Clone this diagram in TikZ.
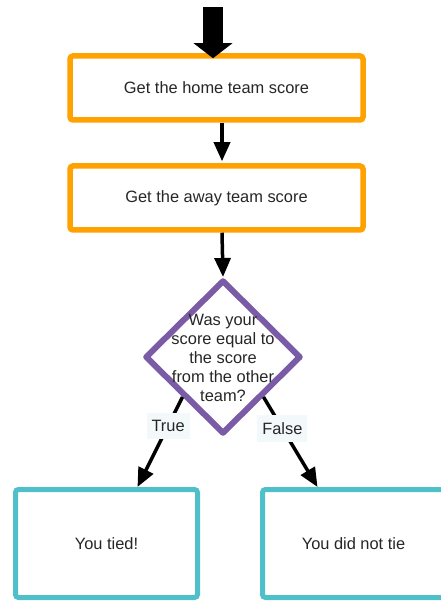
\documentclass[tikz,border=0pt]{standalone}
\usepackage{fontspec}
\setmainfont{Liberation Sans}
\usetikzlibrary{shapes.geometric,arrows.meta,calc}

\definecolor{boxorange}{HTML}{FFA200}
\definecolor{decpurple}{HTML}{7A5CA6}
\definecolor{endteal}{HTML}{4FC0CA}
\definecolor{labelbg}{HTML}{F3F8FA}

\tikzset{
  x=1pt, y=-1pt,
  txt/.style={font=\fontsize{16.4}{19}\selectfont, text=black!85},
  stepbox/.style={draw=boxorange, line width=5.5pt, rounded corners=3pt, fill=white,
    minimum width=293pt, minimum height=64pt, inner sep=0pt, txt},
  endbox/.style={draw=endteal, line width=5pt, rounded corners=3pt, fill=white,
    minimum width=182pt, minimum height=108pt, inner sep=0pt, txt},
  decision/.style={diamond, draw=decpurple, line width=6pt, line join=round, fill=white,
    minimum width=156pt, minimum height=154pt, inner sep=0pt},
  flow/.style={draw=black, line width=3.5pt, -{Triangle[length=19pt,width=16pt]}},
  branch/.style={txt, fill=labelbg, inner xsep=5pt, inner ysep=7pt}
}

\begin{document}
\begin{tikzpicture}
  \useasboundingbox (0,0) rectangle (440,601);

  % process steps
  \node[stepbox] (home) at (216.5,88) {Get the home team score};
  \node[stepbox] (away) at (216.5,198) {Get the away team score};

  % decision
  \node[decision] (dec) at (223,357) {};
  \node[txt, align=center, inner sep=0pt] (q) at (223,358)
    {Was your\\score equal to\\the score\\from the other\\team?};

  % outcomes
  \node[endbox] (tied) at (106.5,543.5) {You tied!};
  \node[endbox] (nottie) at (353.5,543.5) {You did not tie};

  % entry arrow
  \coordinate (entry) at (213,7);
  \draw[line width=20pt, -{Triangle[length=15pt,width=38pt]}]
    (entry) -- ([yshift=-5pt]home.north -| entry);

  % flow between steps
  \draw[flow] ([xshift=5.5pt]home.south) -- ([xshift=5.5pt,yshift=2pt]away.north);
  \draw[flow] ([xshift=5.5pt]away.south) -- (dec.north);

  % branches
  \draw[flow] (dec.south west) -- node[branch, pos=0.32] (tlab) {True}
    ([xshift=31pt]tied.north);
  \draw[flow] (dec.south east) -- node[branch, pos=0.35] (flab) {False}
    ([xshift=-36pt]nottie.north);
\end{tikzpicture}
\end{document}
